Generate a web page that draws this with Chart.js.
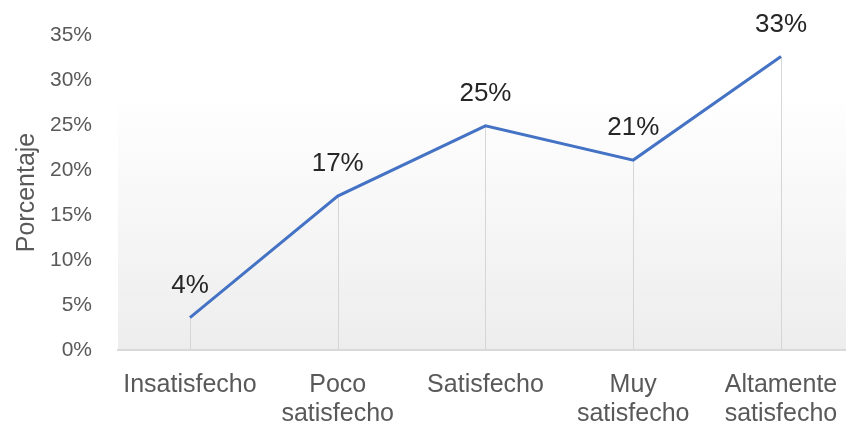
<!DOCTYPE html>
<html>
<head>
<meta charset="utf-8">
<script src="https://cdn.jsdelivr.net/npm/chart.js@4"></script>
<style>
  body { margin: 0; background: #fff; }
  #wrap { width: 846px; height: 424px; position: relative; }
</style>
</head>
<body>
<div id="wrap"><canvas id="mainGraph"></canvas></div>
<script>
var ctx = document.getElementById('mainGraph').getContext('2d');

const categories = ["Insatisfecho", ["Poco", "satisfecho"], "Satisfecho", ["Muy", "satisfecho"], ["Altamente", "satisfecho"]];
const percentages = [3.6, 17.1, 24.9, 21.1, 32.6];
const yTicks = [0, 5, 10, 15, 20, 25, 30, 35];

// grey fade behind the plot, like the original
const backdrop = {
  id: 'backdrop',
  beforeDraw(chart) {
    const a = chart.chartArea;
    const c = chart.ctx;
    const top = a.top + 55;
    const g = c.createLinearGradient(0, top, 0, a.bottom);
    g.addColorStop(0, 'rgba(238,238,238,0)');
    g.addColorStop(1, '#ededed');
    c.save();
    c.fillStyle = g;
    c.fillRect(a.left, top, a.right - a.left, a.bottom - top);
    c.restore();
  }
};

// drop lines from each point down to the axis
const dropLines = {
  id: 'dropLines',
  beforeDatasetsDraw(chart) {
    const c = chart.ctx;
    const pts = chart.getDatasetMeta(0).data;
    c.save();
    c.strokeStyle = '#d6d6d6';
    c.lineWidth = 1;
    pts.forEach(p => {
      c.beginPath();
      c.moveTo(Math.round(p.x) + 0.5, p.y);
      c.lineTo(Math.round(p.x) + 0.5, chart.chartArea.bottom);
      c.stroke();
    });
    c.restore();
  }
};

// value labels above points
const valueLabels = {
  id: 'valueLabels',
  afterDatasetsDraw(chart) {
    const c = chart.ctx;
    const pts = chart.getDatasetMeta(0).data;
    c.save();
    c.font = '26px "Liberation Sans", Arial, sans-serif';
    c.fillStyle = '#262626';
    c.textAlign = 'center';
    c.textBaseline = 'middle';
    pts.forEach((p, i) => {
      c.fillText(Math.round(percentages[i]) + '%', p.x, p.y - 32);
    });
    c.restore();
  }
};

var chart = new Chart(ctx, {
  type: 'line',
  data: {
    datasets: [{
      data: percentages.map((v, i) => ({x: i, y: v})),
      borderColor: '#4472C4',
      borderWidth: 3,
      pointRadius: 0,
      tension: 0,
      fill: false
    }]
  },
  options: {
    responsive: true,
    maintainAspectRatio: false,
    animation: false,
    layout: { padding: { top: 35, right: 0, left: 0, bottom: 0 } },
    plugins: { legend: { display: false }, tooltip: { enabled: false } },
    scales: {
      x: {
        type: 'linear',
        min: -0.487,
        max: 4.44,
        afterBuildTicks: axis => { axis.ticks = categories.map((c, i) => ({value: i})); },
        afterFit: axis => { axis.height = 74; axis.paddingRight = 0; axis.paddingLeft = 0; },
        grid: { display: false },
        border: { display: true, color: '#d9d9d9', width: 2 },
        ticks: {
          autoSkip: false,
          maxRotation: 0,
          padding: 12,
          color: '#595959',
          font: { family: '"Liberation Sans", Arial, sans-serif', size: 25, lineHeight: 1.18 },
          callback: v => categories[v]
        }
      },
      y: {
        min: 0,
        max: 35,
        afterBuildTicks: axis => { axis.ticks = yTicks.map(v => ({value: v})); },
        afterFit: axis => { axis.width = 118; },
        grid: { display: false },
        border: { display: false },
        ticks: {
          padding: 18,
          color: '#595959',
          font: { family: '"Liberation Sans", Arial, sans-serif', size: 21 },
          callback: v => v + '%'
        },
        title: {
          display: true,
          text: 'Porcentaje',
          color: '#595959',
          padding: { top: 12, bottom: 0 },
          font: { family: '"Liberation Sans", Arial, sans-serif', size: 25 }
        }
      }
    }
  },
  plugins: [backdrop, dropLines, valueLabels]
});
</script>
</body>
</html>
